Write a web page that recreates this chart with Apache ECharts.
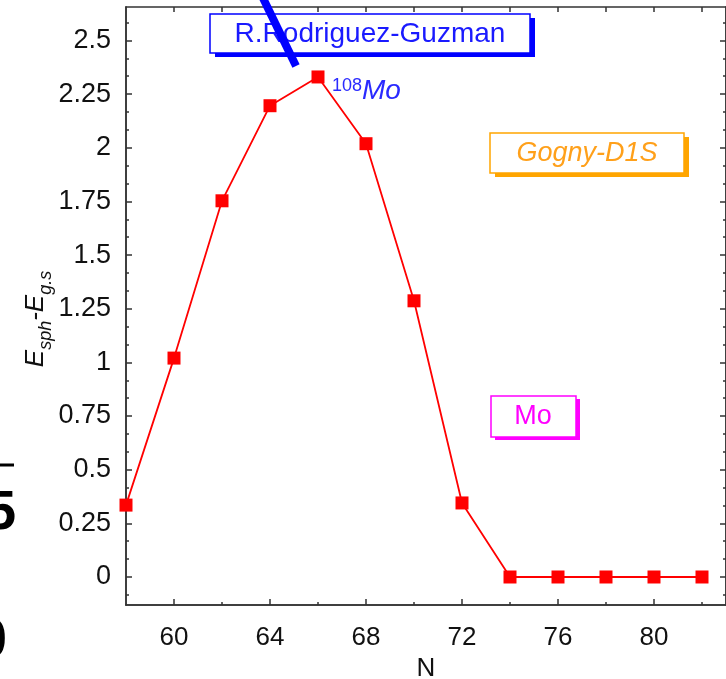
<!DOCTYPE html>
<html><head><meta charset="utf-8">
<script src="https://cdn.jsdelivr.net/npm/echarts@6/dist/echarts.min.js"></script>
<style>html,body{margin:0;padding:0;background:#fff}#c{width:726px;height:679px}</style>
</head><body><div id="c"></div>
<script>
// ---- data ----
const N = [58, 60, 62, 64, 66, 68, 70, 72, 74, 76, 78, 80, 82];
const dE = [0.335, 1.02, 1.753, 2.196, 2.33, 2.019, 1.287, 0.345, 0, 0, 0, 0, 0];
const xTickLabels = [60, 64, 68, 72, 76, 80];
const xMinorTicks = [62, 66, 70, 74, 78, 82];
const yTickLabels = [0, 0.25, 0.5, 0.75, 1, 1.25, 1.5, 1.75, 2, 2.25, 2.5];
const yMinorTicks = [-1/12].concat(yTickLabels.flatMap(v => [v + 1/12, v + 2/12]));
const xAllTicks = xTickLabels.concat(xMinorTicks).sort((a, b) => a - b);

const FONT = 'Liberation Sans';
const AX = '#333';
const xMin = 58, xMax = 83, yMin = -0.1305, yMax = 2.656;

function xAx(pos, ticks, len, labels) {
  return {
    type: 'value', position: pos, min: xMin, max: xMax,
    axisLine: { show: true, onZero: false, lineStyle: { color: AX, width: 1.5 } },
    axisTick: { show: true, inside: true, length: len, customValues: ticks, lineStyle: { color: AX, width: 1.5 } },
    axisLabel: labels ? { show: true, customValues: labels, fontFamily: FONT, fontSize: 26, color: '#111', margin: 20 } : { show: false },
    splitLine: { show: false }
  };
}
function yAx(pos, ticks, len, labels) {
  return {
    type: 'value', position: pos, min: yMin, max: yMax,
    axisLine: { show: true, onZero: false, lineStyle: { color: AX, width: 1.5 } },
    axisTick: { show: true, inside: true, length: len, customValues: ticks, lineStyle: { color: AX, width: 1.5 } },
    axisLabel: labels ? { show: true, customValues: labels, fontFamily: FONT, fontSize: 27, color: '#111', margin: 15 } : { show: false },
    splitLine: { show: false }
  };
}

const xBottom = xAx('bottom', xTickLabels, 6, xTickLabels);
xBottom.name = 'N';
xBottom.nameLocation = 'middle';
xBottom.nameGap = 49;
xBottom.nameTextStyle = { fontFamily: FONT, fontSize: 26, color: '#111' };

const chart = echarts.init(document.getElementById('c'), null, { renderer: 'canvas' });
chart.setOption({
  animation: false,
  backgroundColor: '#fff',
  grid: { left: 126, top: 7, right: 0, bottom: 74, containLabel: false, outerBoundsMode: 'none' },
  xAxis: [
    xBottom,
    xAx('bottom', xMinorTicks, 3, null),
    xAx('top', xAllTicks, 5, null)
  ],
  yAxis: [
    yAx('left', yTickLabels, 6, yTickLabels),
    yAx('left', yMinorTicks, 3, null),
    yAx('right', yTickLabels, 6, null),
    yAx('right', yMinorTicks, 3, null)
  ],
  series: [{
    type: 'line', xAxisIndex: 0, yAxisIndex: 0,
    data: N.map((n, i) => [n, dE[i]]),
    symbol: 'rect', symbolSize: 13, clip: false,
    itemStyle: { color: '#ff0000' },
    lineStyle: { color: '#ff0000', width: 1.8 },
    z: 5
  }],
  graphic: [
    // R.Rodriguez-Guzman box
    { type: 'rect', z: 10, shape: { x: 215, y: 18, width: 320, height: 39 }, style: { fill: '#0000ff' } },
    { type: 'rect', z: 11, shape: { x: 210, y: 14, width: 320, height: 39 }, style: { fill: '#fff', stroke: '#0000ff', lineWidth: 1.5 } },
    { type: 'text', z: 12, x: 370, y: 34, style: { text: 'R.Rodriguez-Guzman', fontFamily: FONT, fontSize: 28, fill: '#1a1aff', align: 'center', verticalAlign: 'middle' } },
    // Gogny-D1S box
    { type: 'rect', z: 10, shape: { x: 495, y: 137, width: 194, height: 40 }, style: { fill: '#ffa500' } },
    { type: 'rect', z: 11, shape: { x: 490, y: 133, width: 194, height: 40 }, style: { fill: '#fff', stroke: '#ffa500', lineWidth: 1.5 } },
    { type: 'text', z: 12, x: 587, y: 153, style: { text: 'Gogny-D1S', fontFamily: FONT, fontStyle: 'italic', fontSize: 27, fill: '#ffa01a', align: 'center', verticalAlign: 'middle' } },
    // Mo box
    { type: 'rect', z: 10, shape: { x: 495, y: 399, width: 85, height: 41 }, style: { fill: '#ff00ff' } },
    { type: 'rect', z: 11, shape: { x: 491, y: 396, width: 85, height: 41 }, style: { fill: '#fff', stroke: '#ff00ff', lineWidth: 1.5 } },
    { type: 'text', z: 12, x: 533, y: 417, style: { text: 'Mo', fontFamily: FONT, fontSize: 27, fill: '#ff00ff', align: 'center', verticalAlign: 'middle' } },
    // pointer line
    { type: 'line', z: 13, shape: { x1: 262, y1: -4, x2: 296, y2: 66 }, style: { stroke: '#0000ff', lineWidth: 8 } },
    // 108Mo
    { type: 'text', z: 12, x: 332, y: 77, style: {
        text: '{sup|108}{it|Mo}', align: 'left', verticalAlign: 'top',
        rich: {
          sup: { fontFamily: FONT, fontSize: 18, fill: '#2a2aff', lineHeight: 14, verticalAlign: 'top' },
          it: { fontFamily: FONT, fontSize: 28, fontStyle: 'italic', fill: '#2a2aff', lineHeight: 36, verticalAlign: 'top' }
        } } },
    // y axis name
    { type: 'text', z: 12, x: 36, y: 319, rotation: Math.PI / 2, style: {
        text: '{m|E}{s|sph}{m|-E}{s|g.s}', align: 'center', verticalAlign: 'middle',
        rich: {
          m: { fontFamily: FONT, fontSize: 26, fontStyle: 'italic', fill: '#111', lineHeight: 26, verticalAlign: 'top' },
          s: { fontFamily: FONT, fontSize: 18, fontStyle: 'italic', fill: '#111', lineHeight: 18, padding: [14, 0, 0, 0], verticalAlign: 'top' }
        } } },
    // cropped neighbouring-figure fragments at left edge
    { type: 'line', z: 12, shape: { x1: 0, y1: 465, x2: 14, y2: 465 }, style: { stroke: '#000', lineWidth: 3 } },
    { type: 'text', z: 12, x: 16, y: 514, style: { text: '5', fontFamily: FONT, fontWeight: 'bold', fontSize: 55, fill: '#000', align: 'right', verticalAlign: 'middle' } },
    { type: 'text', z: 12, x: 7, y: 642, style: { text: '0', fontFamily: FONT, fontWeight: 'bold', fontSize: 55, fill: '#000', align: 'right', verticalAlign: 'middle' } }
  ]
});
</script>
</body></html>
